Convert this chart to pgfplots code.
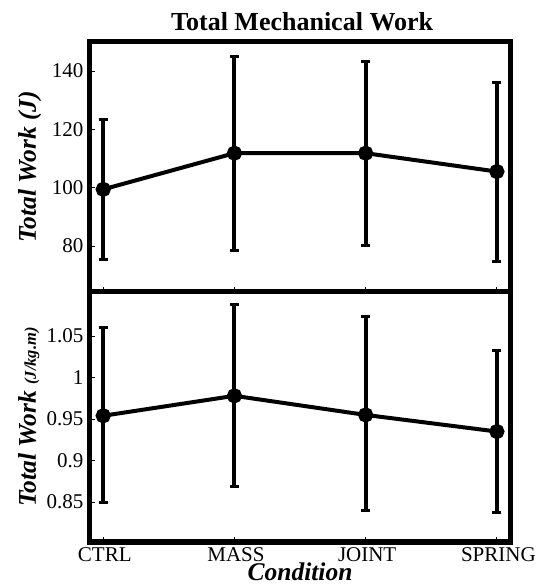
\documentclass[border=0pt]{standalone}
\usepackage{fontspec}
\setmainfont{Liberation Serif}
\usepackage{pgfplots}
\pgfplotsset{compat=1.18}
\pgfplotsset{
  myax/.style={
    scale only axis, width=420bp,
    xmin=-0.101, xmax=3.1,
    axis line style={line width=5bp, black},
    every tick/.style={line width=0.8bp, black},
    major tick length=5bp,
    tick align=inside,
    xtick={0,1,2,3},
    xtick pos=bottom, ytick pos=left,
    /pgf/number format/assume math mode=true,
    tick label style={font=\fontsize{21bp}{25bp}\selectfont},
    yticklabel style={xshift=-3bp},
    xticklabel style={xshift=1.5bp, inner sep=0pt},
    ylabel style={at={(axis description cs:-0.1286,0.5)}, anchor=base, rotate=0,
      font=\fontsize{25.5bp}{30bp}\selectfont},
  },
  myplot/.style={black, line width=4bp, mark=*, mark size=5.6bp,
    mark options={solid, fill=black, line width=4bp},
    error bars/.cd, y dir=both, y explicit, error mark=|,
    error bar style={line width=4bp, black},
    error mark options={line width=3bp, mark size=4.5bp, black}},
}
\begin{document}
\begin{tikzpicture}
\useasboundingbox (-90bp,-45bp) rectangle (453bp,542bp);
\begin{axis}[myax, at={(0,250bp)}, height=250.5bp,
  ymin=64.2, ymax=150.1,
  ytick={80,100,120,140},
  xticklabels={},
  ylabel={\textbf{\textit{Total Work (J)}}},
  title={\textbf{Total Mechanical Work}},
  title style={at={(axis description cs:0.505,1.022)}, anchor=base,
    font=\fontsize{26bp}{30bp}\selectfont},
]
\addplot[myplot] coordinates {
  (0,99.4)  += (0,24.0) -= (0,24.0)
  (1,111.8) += (0,33.3) -= (0,33.2)
  (2,111.8) += (0,31.4) -= (0,31.5)
  (3,105.5) += (0,30.6) -= (0,30.7)
};
\end{axis}
\begin{axis}[myax, at={(0,0)}, height=250bp,
  ymin=0.802, ymax=1.103,
  ytick={0.85,0.9,0.95,1,1.05},
  xticklabels={CTRL,MASS,JOINT,SPRING},
  xticklabel style={yshift=-5.5bp},
  ylabel={\textbf{\textit{Total Work}} {\fontsize{16.5bp}{19bp}\selectfont\textbf{\textit{(J/kg.m)}}}},
  xlabel={\textbf{\textit{Condition}}},
  xlabel style={at={(axis description cs:0.5,-0.155)}, anchor=base, inner sep=0pt,
    font=\fontsize{25.5bp}{30bp}\selectfont},
]
\addplot[myplot] coordinates {
  (0,0.954) += (0,0.106) -= (0,0.104)
  (1,0.978) += (0,0.110) -= (0,0.109)
  (2,0.955) += (0,0.118) -= (0,0.115)
  (3,0.935) += (0,0.097) -= (0,0.097)
};
\end{axis}
\end{tikzpicture}
\end{document}
